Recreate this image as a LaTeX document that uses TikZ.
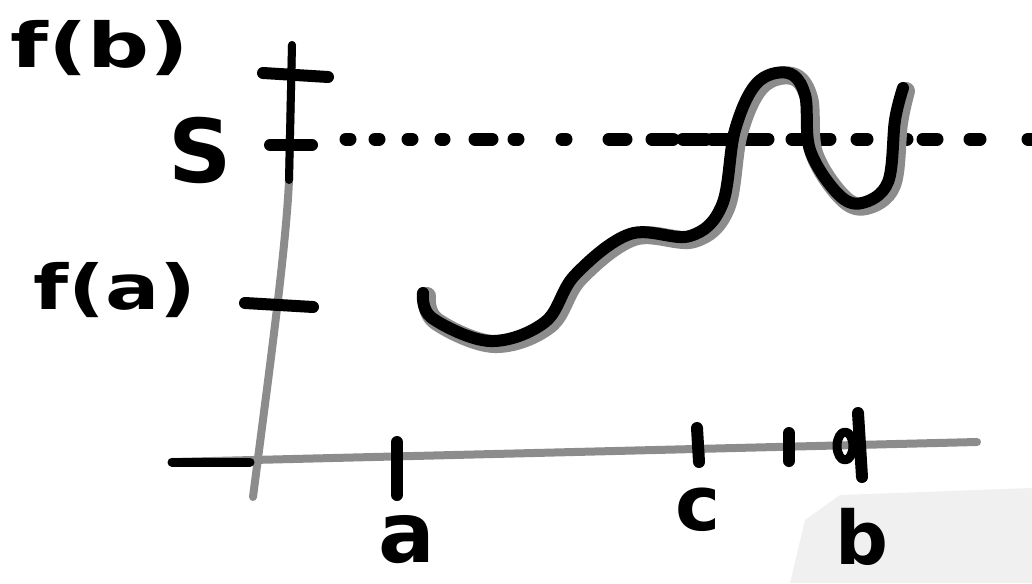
\documentclass[tikz,border=0pt]{standalone}
\usepackage{fontspec}
\setmainfont{DejaVu Sans}
\begin{document}
\begin{tikzpicture}[x=1pt,y=-1pt,
  ink/.style={line width=12pt,line cap=round,line join=round,black},
  axisg/.style={line width=8pt,line cap=round,line join=round,black!45},
  shade/.style={line width=18pt,line cap=round,line join=round,black!45},
  dotm/.style={line width=13pt,line cap=round,black},
  lbl/.style={inner sep=0pt,font=\bfseries}]
\useasboundingbox (0,0) rectangle (1032,583);
% paper shadow
\fill[black!6] (790,583) -- (805,520) -- (840,495) -- (1032,488) -- (1032,583) -- cycle;
% axes
\coordinate (yb) at (253,497);
\coordinate (yt) at (292,45);
\coordinate (ym) at (289,180);
\draw[axisg] (yb) .. controls (268,380) and (286,250) .. (ym) -- (yt);
\draw[ink,line width=8pt] (ym) -- (yt);
\coordinate (xl) at (172,462);
\coordinate (xr) at (977,442);
\coordinate (xk) at (250,462);
\draw[axisg] (xl) -- (xr);
\draw[ink,line width=9pt] (xl) -- (xk);
% y ticks
\coordinate (tb1) at (263,73); \coordinate (tb2) at (328,77);
\coordinate (ts1) at (270,145); \coordinate (ts2) at (312,145);
\coordinate (ta1) at (245,303); \coordinate (ta2) at (313,307);
\draw[ink] (tb1) -- (tb2);
\draw[ink] (ts1) -- (ts2);
\draw[ink] (ta1) -- (ta2);
% x ticks
\coordinate (xa1) at (397,442); \coordinate (xa2) at (397,495);
\coordinate (xc1) at (697,428); \coordinate (xc2) at (699,462);
\coordinate (xm1) at (789,433); \coordinate (xm2) at (789,461);
\coordinate (xd1) at (858,413); \coordinate (xd2) at (862,477);
\draw[ink] (xa1) -- (xa2);
\draw[ink] (xc1) -- (xc2);
\draw[ink] (xm1) -- (xm2);
\draw[ink] (xd1) -- (xd2);
\draw[ink,line width=9pt] (845,446) ellipse[x radius=8,y radius=14];
% dotted level line at s
\foreach \xa/\xb in {346/350,375/379,408/412,441/444,475/492,514/518,562/566,609/626,652/673,683/706,712/768,792/830,857/867,897/907,923/937,970/980,1028/1040}
  \draw[dotm] (\xa,139) -- (\xb,139);
% curve
\draw[shade] plot[smooth,tension=0.6] coordinates {(427,296) (436,321) (494,344) (549,325) (579,278) (634,237) (694,239) (726,208) (739,133) (761,86) (792,76) (809,98) (814,153) (842,197) (866,206) (892,185) (899,123) (906,91)};
\draw[ink] plot[smooth,tension=0.6] coordinates {(423,293) (432,318) (490,341) (545,322) (575,275) (630,234) (690,236) (722,205) (735,130) (757,83) (788,73) (805,95) (810,150) (838,194) (862,203) (888,182) (895,120) (903,88)};
% labels
\node[lbl,font=\bfseries\fontsize{62}{62}\selectfont,xscale=1.4] (fb) at (100,48) {f(b)};
\node[lbl,font=\bfseries\fontsize{88}{88}\selectfont] (s) at (200,150) {S};
\node[lbl,font=\bfseries\fontsize{62}{62}\selectfont,xscale=1.3] (fa) at (115,290) {f(a)};
\node[lbl,font=\bfseries\fontsize{84}{84}\selectfont] (a) at (407,540) {a};
\node[lbl,font=\bfseries\fontsize{76}{76}\selectfont] (c) at (698,510) {c};
\node[lbl,font=\bfseries\fontsize{74}{74}\selectfont] (b) at (862,537) {b};
\end{tikzpicture}
\end{document}
